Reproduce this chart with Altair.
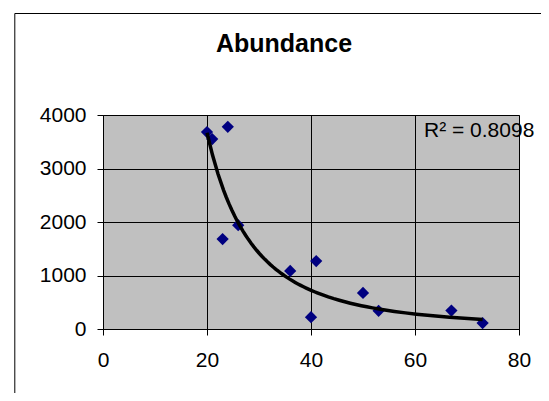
import altair as alt
import pandas as pd

# Data
x_vals = [20, 21, 24, 23, 26, 36, 41, 40, 50, 53, 67, 73]
y_vals = [3680, 3550, 3780, 1680, 1940, 1085, 1270, 220, 675, 340, 345, 110]
x_ticks = [0, 20, 40, 60, 80]
y_ticks = [0, 1000, 2000, 3000, 4000]
title_text = ["Abundance"]
r2_text = ["R² = 0.8098"]

df = pd.DataFrame({"x": x_vals, "y": y_vals})

FONT = "Liberation Sans"
W, H = 416, 214

xscale = alt.Scale(domain=[0, 80], nice=False, zero=False)
yscale = alt.Scale(domain=[0, 4000], nice=False)

common_axis = dict(
    title=None, grid=True, gridColor="black", gridWidth=1, gridOpacity=1,
    domainColor="black", domainWidth=1, tickColor="black", tickSize=6, tickWidth=1,
    labelFontSize=21, labelFont=FONT, labelColor="black", labelFlush=False,
    labelOverlap=False, format="d",
)
xaxis = alt.Axis(values=x_ticks, labelPadding=14, **common_axis)
yaxis = alt.Axis(values=y_ticks, labelPadding=11, **common_axis)

frame_top = alt.Chart(alt.Data(values=[{}])).mark_rule(
    color="black", strokeWidth=1
).encode(x=alt.value(-88.2), x2=alt.value(600), y=alt.value(-101.5))

frame_left = alt.Chart(alt.Data(values=[{}])).mark_rule(
    color="black", strokeWidth=1
).encode(x=alt.value(-88.2), y=alt.value(-101.5), y2=alt.value(500))

points = alt.Chart(df).mark_point(
    shape="diamond", filled=True, color="#000080", size=150, opacity=1
).encode(
    x=alt.X("x:Q", scale=xscale, axis=xaxis),
    y=alt.Y("y:Q", scale=yscale, axis=yaxis),
)

trend = alt.Chart(df).transform_regression(
    "x", "y", method="pow"
).mark_line(color="black", strokeWidth=3.5).encode(
    x=alt.X("x:Q", scale=xscale),
    y=alt.Y("y:Q", scale=yscale),
)

r2 = alt.Chart(pd.DataFrame({"t": r2_text})).mark_text(
    align="left", baseline="alphabetic", fontSize=21, font=FONT, color="black"
).encode(text="t:N", x=alt.value(321), y=alt.value(21.7))

title = alt.Chart(pd.DataFrame({"t": title_text})).mark_text(
    align="center", baseline="alphabetic", fontSize=25, fontWeight="bold",
    font=FONT, color="black"
).encode(text="t:N", x=alt.value(181), y=alt.value(-63.3))

chart = alt.layer(frame_top, frame_left, points, trend, r2, title).properties(
    width=W, height=H,
    padding={"left": 95, "top": 107, "right": 22, "bottom": 64},
    autosize=alt.AutoSizeParams(type="none"),
    background="white",
).configure_view(
    fill="#C0C0C0", stroke="#808080", strokeWidth=1
)

chart.save("out.html", embed_options={"renderer": "svg", "actions": False})
